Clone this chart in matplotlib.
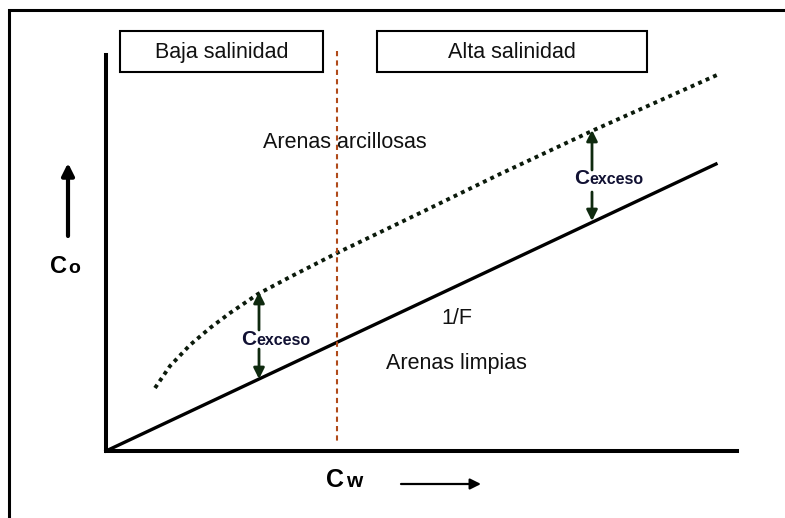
import matplotlib
matplotlib.use("Agg")
import matplotlib.pyplot as plt
from matplotlib.patches import Rectangle

plt.rcParams['font.family'] = ['Liberation Sans', 'DejaVu Sans']

# coordenadas de lectura del esquema (pixeles, y hacia abajo)
marco_x = [9, 9, 785]
marco_y = [518, 10, 10]

eje_x = [106, 106, 737]
eje_y = [55, 451, 451]

limpias_x = [106, 716]
limpias_y = [451, 164]

arcillosas_x = [155, 170, 190, 210, 230, 258, 290, 337, 420, 500, 594, 717]
arcillosas_y = [388, 366, 345, 328, 313, 294, 277, 253, 213, 174, 130, 75]

limite_x = [337, 337]
limite_y = [51, 442]

cajas = ['Baja salinidad', 'Alta salinidad']
cajas_x0 = [120, 377]
cajas_x1 = [323, 647]
cajas_y0 = [31, 31]
cajas_y1 = [72, 72]

# flechas de C exceso: (x, punta arriba, cola arriba, cola abajo, punta abajo)
exceso_x = [259, 592]
exceso_arriba_punta = [292, 130]
exceso_arriba_cola = [330, 170]
exceso_abajo_cola = [349, 192]
exceso_abajo_punta = [379, 221]
exceso_texto_x = [241, 574]
exceso_texto_y = [345, 184]

fig = plt.figure(figsize=(7.85, 5.18), dpi=100)
ax = fig.add_axes([0, 0, 1, 1])
ax.set_xlim(0, 785)
ax.set_ylim(518, 0)
ax.axis('off')

ax.plot(marco_x, marco_y, color='black', lw=2.2, solid_joinstyle='miter')
ax.plot(eje_x, eje_y, color='black', lw=2.9, solid_joinstyle='miter')
ax.plot(limpias_x, limpias_y, color='black', lw=2.4)
ax.plot(arcillosas_x, arcillosas_y, color='#0b1a0b', lw=2.8,
        linestyle=(0, (1, 1.1)))
ax.plot(limite_x, limite_y, color='#b04a1a', lw=1.5,
        linestyle=(0, (2.5, 2)))

for nombre, x0, x1, y0, y1 in zip(cajas, cajas_x0, cajas_x1, cajas_y0, cajas_y1):
    ax.add_patch(Rectangle((x0, y0), x1 - x0, y1 - y0, fill=False,
                           edgecolor='black', lw=1.5))
    ax.text((x0 + x1) / 2, (y0 + y1) / 2 + 1, nombre, ha='center',
            va='center', fontsize=15.5, color='#111111')

ax.text(345, 143, 'Arenas arcillosas', ha='center', va='center',
        fontsize=15.5, color='#111111')
ax.text(457, 319, '1/F', ha='center', va='center', fontsize=15.5,
        color='#111111')
ax.text(456, 363, 'Arenas limpias', ha='center', va='center',
        fontsize=15.5, color='#111111')

flecha = dict(arrowstyle='-|>', lw=2, color='#0f2a0f', mutation_scale=16,
              shrinkA=0, shrinkB=0)
for x, pa, ca, cb, pb, tx, ty in zip(exceso_x, exceso_arriba_punta,
                                     exceso_arriba_cola, exceso_abajo_cola,
                                     exceso_abajo_punta, exceso_texto_x,
                                     exceso_texto_y):
    ax.annotate('', xy=(x, pa), xytext=(x, ca), arrowprops=flecha)
    ax.annotate('', xy=(x, pb), xytext=(x, cb), arrowprops=flecha)
    ax.text(tx, ty, 'C', ha='left', va='baseline', fontsize=15,
            fontweight='bold', color='#111133')
    ax.text(tx + 15, ty, 'exceso', ha='left', va='baseline', fontsize=11.5,
            fontweight='bold', color='#111133')

# etiquetas de los ejes
ax.text(50, 273, 'C', ha='left', va='baseline', fontsize=17,
        fontweight='bold', color='black')
ax.text(68, 273, 'o', ha='left', va='baseline', fontsize=14,
        fontweight='bold', color='black')
ax.annotate('', xy=(68, 163), xytext=(68, 236),
            arrowprops=dict(arrowstyle='-|>', lw=3, color='black',
                            mutation_scale=18, shrinkA=0, shrinkB=0))

ax.text(326, 487, 'C', ha='left', va='baseline', fontsize=18,
        fontweight='bold', color='black')
ax.text(346, 487, 'w', ha='left', va='baseline', fontsize=15,
        fontweight='bold', color='black')
ax.annotate('', xy=(481, 484), xytext=(401, 484),
            arrowprops=dict(arrowstyle='-|>', lw=1.6, color='black',
                            mutation_scale=16, shrinkA=0, shrinkB=0))

fig.savefig('out.png', dpi=100, facecolor='white')
